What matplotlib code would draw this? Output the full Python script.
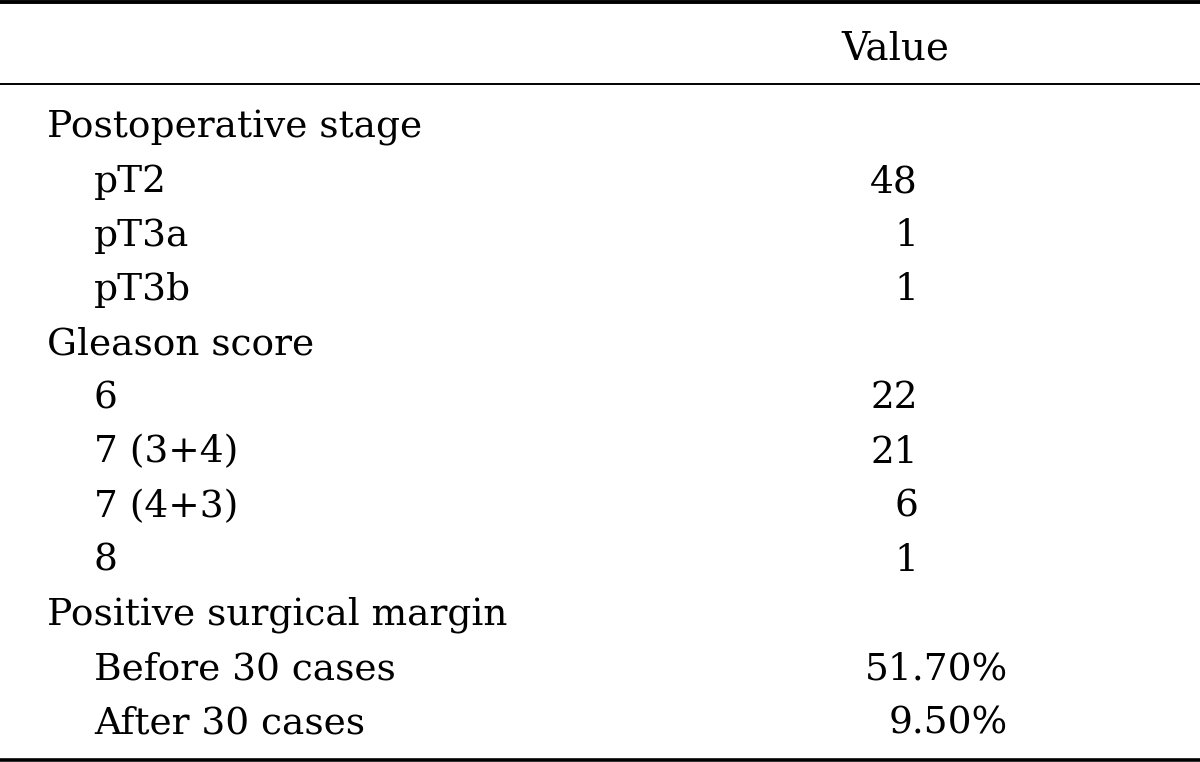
import matplotlib
matplotlib.use("Agg")
import matplotlib.pyplot as plt

# dados da tabela
cabecalho = "Value"
rotulos = ["Postoperative stage", "pT2", "pT3a", "pT3b",
           "Gleason score", "6", "7 (3+4)", "7 (4+3)", "8",
           "Positive surgical margin", "Before 30 cases", "After 30 cases"]
recuo = [0, 1, 1, 1, 0, 1, 1, 1, 1, 0, 1, 1]
valores = ["", "48", "1", "1", "", "22", "21", "6", "1", "", "51.70%", "9.50%"]

fig = plt.figure(figsize=(12, 7.62), dpi=100)
ax = fig.add_axes([0, 0, 1, 1])
ax.set_xlim(0, 1200)
ax.set_ylim(762, 0)
ax.axis("off")

fonte = dict(family="DejaVu Serif", fontsize=27, color="black")

# linhas da tabela
ax.axhline(2, color="black", lw=2.8)
ax.axhline(83.5, color="black", lw=1.4)
ax.axhline(760, color="black", lw=2.6)

ax.text(895, 59, cabecalho, ha="center", va="baseline",
        family="DejaVu Serif", fontsize=28, color="black")

y0 = 138
passo = 54.1
for i, (rot, r, val) in enumerate(zip(rotulos, recuo, valores)):
    y = y0 + i * passo
    ax.text(47 + 47 * r, y, rot, ha="left", va="baseline", **fonte)
    if val:
        # inteiros alinhados em 918, percentuais em 1008
        xd = 1008 if "%" in val else 918
        ax.text(xd, y, val, ha="right", va="baseline", **fonte)

fig.savefig("out.png", dpi=100)
